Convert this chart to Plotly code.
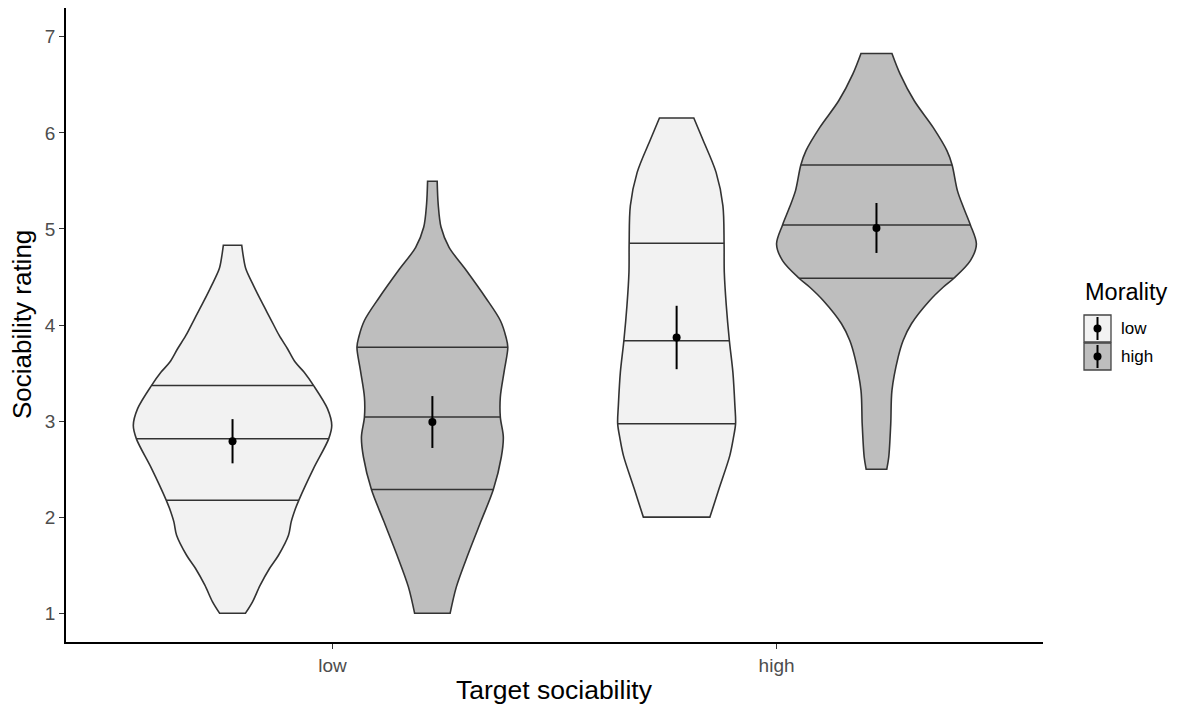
import numpy as np
import plotly.graph_objects as go

# ---------------- data ----------------
sociability = ["low", "high"]          # x categories (Target sociability)
morality = ["low", "high"]             # fill groups (Morality)

# violin outlines: rating levels and relative density (1 = widest violin)
y_low_low = [1.0, 1.118, 1.291, 1.465, 1.603, 1.811, 1.95, 2.089, 2.175, 2.505, 2.817,
             2.955, 3.129, 3.371, 3.51, 3.614, 3.753, 3.891, 4.065, 4.237, 4.41, 4.585,
             4.72, 4.83]
d_low_low = [0.13, 0.20, 0.277, 0.37, 0.46, 0.56, 0.587, 0.63, 0.663, 0.81, 0.963,
             0.993, 0.95, 0.81, 0.715, 0.627, 0.55, 0.467, 0.38, 0.293, 0.21, 0.133,
             0.107, 0.092]

y_low_high = [1.0, 1.274, 1.621, 1.967, 2.287, 2.626, 2.834, 3.041, 3.249, 3.527, 3.769,
              3.873, 4.047, 4.289, 4.567, 4.809, 5.017, 5.26, 5.496]
d_low_high = [0.178, 0.24, 0.36, 0.49, 0.61, 0.69, 0.71, 0.68, 0.68, 0.72, 0.755,
              0.737, 0.68, 0.53, 0.34, 0.167, 0.087, 0.058, 0.048]

y_high_low = [2.0, 2.297, 2.643, 2.817, 2.973, 3.163, 3.509, 3.836, 4.203, 4.549, 4.851,
              5.243, 5.589, 5.936, 6.155]
d_high_low = [0.333, 0.425, 0.533, 0.567, 0.59, 0.583, 0.563, 0.528, 0.497, 0.477, 0.475,
              0.463, 0.395, 0.26, 0.172]

y_high_high = [2.498, 2.626, 2.973, 3.319, 3.665, 3.839, 4.013, 4.255, 4.393, 4.487, 4.67,
               4.844, 5.042, 5.225, 5.399, 5.666, 5.815, 6.057, 6.334, 6.612, 6.827]
d_high_high = [0.103, 0.123, 0.143, 0.155, 0.217, 0.267, 0.35, 0.533, 0.667, 0.775, 0.94,
               1.0, 0.94, 0.87, 0.81, 0.757, 0.705, 0.567, 0.378, 0.237, 0.155]

# quartile lines (25 %, 50 %, 75 %)
q_low_low = [2.175, 2.817, 3.371]
q_low_high = [2.287, 3.041, 3.769]
q_high_low = [2.973, 3.836, 4.851]
q_high_high = [4.487, 5.042, 5.666]

# means and error half-widths, order: (low,low), (low,high), (high,low), (high,high)
means = [2.79, 2.99, 3.87, 5.01]
errors = [0.23, 0.27, 0.33, 0.26]

x_title = "Target sociability"
y_title = "Sociability rating"
legend_title = "Morality"

# ---------------- styling ----------------
fills = {"low": "#F2F2F2", "high": "#BEBEBE"}
outline = "#333333"
dodge = 0.225          # half of the 0.9 dodge width
max_half = 0.225       # max half-width of a violin in axis units
font_family = "Liberation Sans, Arial, sans-serif"

groups = [
    (0, "low", y_low_low, d_low_low, q_low_low),
    (0, "high", y_low_high, d_low_high, q_low_high),
    (1, "low", y_high_low, d_high_low, q_high_low),
    (1, "high", y_high_high, d_high_high, q_high_high),
]

fig = go.Figure()

for i, (ci, mor, ys, ds, qs) in enumerate(groups):
    xc = ci + 1 + (-dodge if mor == "low" else dodge)
    ys = np.asarray(ys, float)
    hw = np.asarray(ds, float) * max_half
    # closed outline: right side upwards, left side downwards (corners doubled to stay sharp)
    xs = np.concatenate([[xc - hw[0]], [xc + hw[0]], xc + hw, [xc + hw[-1]],
                         [xc - hw[-1]], (xc - hw)[::-1], [xc - hw[0]]])
    yy = np.concatenate([[ys[0]], [ys[0]], ys, [ys[-1]], [ys[-1]], ys[::-1], [ys[0]]])
    fig.add_trace(go.Scatter(
        x=xs, y=yy, mode="lines", fill="toself", fillcolor=fills[mor],
        line=dict(color=outline, width=1.6, shape="spline", smoothing=0.9, simplify=False),
        hoverinfo="skip", showlegend=False))
    # quartile lines
    qx, qy = [], []
    for q in qs:
        w = float(np.interp(q, ys, hw))
        qx += [xc - w, xc + w, None]
        qy += [q, q, None]
    fig.add_trace(go.Scatter(x=qx, y=qy, mode="lines",
                             line=dict(color=outline, width=1.5),
                             hoverinfo="skip", showlegend=False))
    # mean with error bar
    fig.add_trace(go.Scatter(
        x=[xc], y=[means[i]], mode="markers",
        marker=dict(color="black", size=8),
        error_y=dict(type="data", array=[errors[i]], color="black", thickness=2, width=0),
        showlegend=False, hoverinfo="skip"))

# ---------------- layout ----------------
W, H = 1184, 706
ML, MR, MT, MB = 66, 141, 8, 64
pw, ph = W - ML - MR, H - MT - MB


def px_x(px):
    return (px - ML) / pw


def px_y(py):
    return (H - MB - py) / ph


axis_common = dict(
    showline=True, linecolor="black", linewidth=1.6, mirror=False,
    ticks="outside", ticklen=5, tickwidth=1.4, tickcolor="#333333",
    showgrid=False, zeroline=False, automargin=False,
    tickfont=dict(family=font_family, size=19, color="#4D4D4D"),
)

fig.update_layout(
    width=W, height=H,
    margin=dict(l=ML, r=MR, t=MT, b=MB),
    paper_bgcolor="white", plot_bgcolor="white",
    font=dict(family=font_family, color="black"),
    showlegend=False,
    xaxis=dict(range=[0.4, 2.6], tickvals=[1, 2], ticktext=sociability, **axis_common),
    yaxis=dict(range=[0.7, 7.3], tickvals=[1, 2, 3, 4, 5, 6, 7], **axis_common),
)

shapes = []
annotations = [
    dict(x=0.5, y=px_y(690), xref="paper", yref="paper", text=x_title, showarrow=False,
         xanchor="center", yanchor="middle",
         font=dict(family=font_family, size=26.5, color="black")),
    dict(x=px_x(22), y=px_y(325), xref="paper", yref="paper", text=y_title, showarrow=False,
         textangle=-90, xanchor="center", yanchor="middle",
         font=dict(family=font_family, size=26, color="black")),
]

# ---------------- manual legend (ggplot style) ----------------
annotations.append(dict(x=px_x(1083), y=px_y(292), xref="paper", yref="paper",
                        text=legend_title, showarrow=False, xanchor="left", yanchor="middle",
                        font=dict(family=font_family, size=23.5, color="black")))
key_tops = [315, 343]
for k, mor in enumerate(morality):
    top = key_tops[k]
    bot = top + 27
    shapes.append(dict(type="rect", xref="paper", yref="paper",
                       x0=px_x(1084), x1=px_x(1111), y0=px_y(bot), y1=px_y(top),
                       fillcolor=fills[mor], line=dict(color="#444444", width=1.3)))
    shapes.append(dict(type="line", xref="paper", yref="paper",
                       x0=px_x(1097.5), x1=px_x(1097.5), y0=px_y(bot - 2), y1=px_y(top + 2),
                       line=dict(color="black", width=2)))
    cy = (top + bot) / 2
    shapes.append(dict(type="circle", xref="paper", yref="paper",
                       x0=px_x(1093.5), x1=px_x(1101.5), y0=px_y(cy + 4), y1=px_y(cy - 4),
                       fillcolor="black", line=dict(color="black", width=0)))
    annotations.append(dict(x=px_x(1119), y=px_y(cy), xref="paper", yref="paper",
                            text=mor, showarrow=False, xanchor="left", yanchor="middle",
                            font=dict(family=font_family, size=17, color="black")))

fig.update_layout(shapes=shapes, annotations=annotations)

fig.write_html("out.html", config={"displayModeBar": False},
               post_script="document.body.style.margin='0';"
                           "document.body.style.overflow='hidden';")
